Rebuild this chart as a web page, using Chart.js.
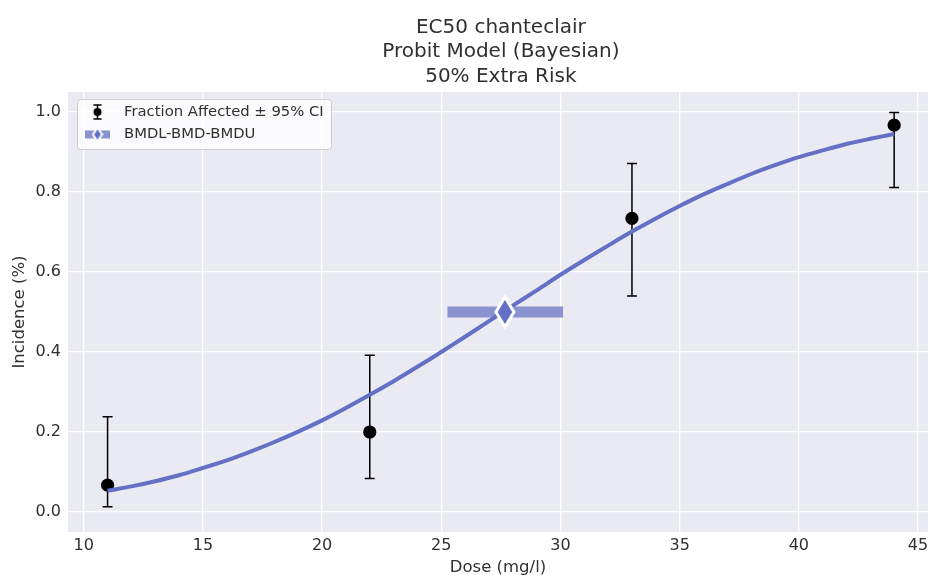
<!DOCTYPE html>
<html>
<head>
<meta charset="utf-8">
<script src="https://cdn.jsdelivr.net/npm/chart.js@4.4.1/dist/chart.umd.min.js"></script>
<style>
  html, body { margin: 0; padding: 0; background: #ffffff; }
  canvas { display: block; }
</style>
</head>
<body>
<canvas id="chart" width="928" height="575"></canvas>
<script>
// observed dose groups
const doses = [11, 22, 33, 44];
const fractionAffected = [0.067, 0.200, 0.734, 0.967];
const ciLower = [0.013, 0.084, 0.540, 0.811];
const ciUpper = [0.238, 0.392, 0.871, 0.999];

// fitted probit curve
const curveDose = [11, 12, 13, 14, 15, 16, 17, 18, 19, 20, 21, 22, 23, 24, 25, 26, 27,
                   28, 29, 30, 31, 32, 33, 34, 35, 36, 37, 38, 39, 40, 41, 42, 43, 44];
const curveIncidence = [0.053, 0.064, 0.077, 0.092, 0.110, 0.129, 0.151, 0.175, 0.201, 0.229,
                        0.260, 0.293, 0.327, 0.363, 0.400, 0.438, 0.477, 0.516, 0.554, 0.593,
                        0.630, 0.666, 0.701, 0.734, 0.765, 0.794, 0.820, 0.845, 0.867, 0.887,
                        0.904, 0.920, 0.933, 0.945];

// benchmark dose
const bmdl = 25.26;
const bmd = 27.67;
const bmdu = 30.11;
const bmr = 0.5;

const titleLines = ['EC50 chanteclair', 'Probit Model (Bayesian)', '50% Extra Risk'];
const xTicks = [10, 15, 20, 25, 30, 35, 40, 45];
const yTicks = [0.0, 0.2, 0.4, 0.6, 0.8, 1.0];

const FONT = 'DejaVu Sans, sans-serif';
const TEXT = '#303030';
const CURVE = '#6370c5';
const BAND = '#8a93cf';

// thin diamond marker used for the BMD point
function makeDiamond(w, h, lw) {
    const c = document.createElement('canvas');
    c.width = w; c.height = h;
    const g = c.getContext('2d');
    g.beginPath();
    g.moveTo(w / 2, lw / 2 + 0.5);
    g.lineTo(w - lw / 2 - 0.5, h / 2);
    g.lineTo(w / 2, h - lw / 2 - 0.5);
    g.lineTo(lw / 2 + 0.5, h / 2);
    g.closePath();
    g.fillStyle = CURVE;
    g.fill();
    g.lineWidth = lw;
    g.strokeStyle = '#ffffff';
    g.lineJoin = 'miter';
    g.stroke();
    return c;
}
const bigDiamond = makeDiamond(22, 34, 3);

const plotBackground = {
    id: 'plotBackground',
    beforeDraw(chart) {
        const { ctx, chartArea: a } = chart;
        ctx.save();
        ctx.fillStyle = '#eaeaf2';
        ctx.fillRect(a.left, a.top, a.right - a.left, a.bottom - a.top);
        ctx.restore();
    }
};

const errorBars = {
    id: 'errorBars',
    beforeDatasetsDraw(chart) {
        const { ctx, scales: { x, y } } = chart;
        ctx.save();
        ctx.strokeStyle = '#000000';
        ctx.lineWidth = 1.5;
        doses.forEach((d, i) => {
            const px = x.getPixelForValue(d);
            const lo = y.getPixelForValue(ciLower[i]);
            const hi = y.getPixelForValue(ciUpper[i]);
            ctx.beginPath();
            ctx.moveTo(px, lo); ctx.lineTo(px, hi);
            ctx.moveTo(px - 5, lo); ctx.lineTo(px + 5, lo);
            ctx.moveTo(px - 5, hi); ctx.lineTo(px + 5, hi);
            ctx.stroke();
        });
        ctx.restore();
    }
};

const titleAndLegend = {
    id: 'titleAndLegend',
    afterDraw(chart) {
        const { ctx, scales: { x } } = chart;
        ctx.save();
        // title, centred over the axes
        ctx.fillStyle = TEXT;
        ctx.font = '20px ' + FONT;
        ctx.textAlign = 'center';
        ctx.textBaseline = 'alphabetic';
        const cx = x.getPixelForValue(27.5);
        titleLines.forEach((t, i) => ctx.fillText(t, cx, 33 + i * 24.4));

        // legend box
        const bx = 77.5, by = 99.5, bw = 254, bh = 50;
        ctx.beginPath();
        ctx.roundRect(bx, by, bw, bh, 3);
        ctx.fillStyle = 'rgba(255,255,255,0.8)';
        ctx.fill();
        ctx.strokeStyle = '#cccccc';
        ctx.lineWidth = 1;
        ctx.stroke();

        // error bar symbol
        const ix = 97.5, r1 = 112, r2 = 134.5;
        ctx.strokeStyle = '#000000';
        ctx.lineWidth = 1.5;
        ctx.beginPath();
        ctx.moveTo(ix, r1 - 7); ctx.lineTo(ix, r1 + 7);
        ctx.moveTo(ix - 4, r1 - 7); ctx.lineTo(ix + 4, r1 - 7);
        ctx.moveTo(ix - 4, r1 + 7); ctx.lineTo(ix + 4, r1 + 7);
        ctx.stroke();
        ctx.beginPath();
        ctx.arc(ix, r1, 4, 0, Math.PI * 2);
        ctx.fillStyle = '#000000';
        ctx.fill();

        // BMD symbol
        ctx.fillStyle = BAND;
        ctx.fillRect(ix - 12.5, r2 - 4, 25, 8);
        ctx.drawImage(makeDiamond(12, 17, 2), ix - 6, r2 - 8.5);

        ctx.fillStyle = TEXT;
        ctx.font = '14.8px ' + FONT;
        ctx.textAlign = 'left';
        ctx.textBaseline = 'middle';
        ctx.fillText('Fraction Affected \u00b1 95% CI', 124, r1);
        ctx.fillText('BMDL-BMD-BMDU', 124, r2);
        ctx.restore();
    }
};

new Chart(document.getElementById('chart'), {
    type: 'line',
    data: {
        datasets: [
            {
                label: 'BMD',
                data: [{ x: bmd, y: bmr }],
                showLine: false,
                pointStyle: bigDiamond,
                order: 0
            },
            {
                label: 'Probit fit',
                data: curveDose.map((d, i) => ({ x: d, y: curveIncidence[i] })),
                borderColor: CURVE,
                borderWidth: 4,
                pointRadius: 0,
                tension: 0.3,
                order: 1
            },
            {
                label: 'BMDL-BMDU',
                data: [{ x: bmdl, y: bmr }, { x: bmdu, y: bmr }],
                borderColor: BAND,
                borderWidth: 11,
                borderCapStyle: 'butt',
                pointRadius: 0,
                order: 2
            },
            {
                label: 'Fraction Affected',
                data: doses.map((d, i) => ({ x: d, y: fractionAffected[i] })),
                showLine: false,
                pointRadius: 6.6,
                backgroundColor: '#000000',
                borderWidth: 0,
                order: 3
            }
        ]
    },
    options: {
        responsive: false,
        animation: false,
        devicePixelRatio: 1,
        layout: { autoPadding: false, padding: { top: 92, left: 0, right: 0, bottom: 0 } },
        plugins: {
            legend: { display: false },
            title: { display: false },
            tooltip: { enabled: false }
        },
        scales: {
            x: {
                type: 'linear',
                min: 9.34,
                max: 45.42,
                afterBuildTicks: s => { s.ticks = xTicks.map(v => ({ value: v })); },
                afterFit: s => { s.height = 43; s.paddingLeft = 0; s.paddingRight = 0; },
                border: { display: false },
                grid: { color: '#ffffff', lineWidth: 1.3, drawTicks: false },
                ticks: {
                    padding: 4,
                    color: TEXT,
                    font: { family: FONT, size: 16 },
                    callback: v => String(v)
                },
                title: {
                    display: true,
                    text: 'Dose (mg/l)',
                    color: TEXT,
                    font: { family: FONT, size: 16.5 },
                    padding: { top: 0, bottom: -3 }
                }
            },
            y: {
                type: 'linear',
                min: -0.05,
                max: 1.05,
                afterBuildTicks: s => { s.ticks = yTicks.map(v => ({ value: v })); },
                afterFit: s => { s.width = 68; s.paddingTop = 0; s.paddingBottom = 0; },
                border: { display: false },
                grid: { color: '#ffffff', lineWidth: 1.3, drawTicks: false },
                ticks: {
                    padding: 7,
                    color: TEXT,
                    font: { family: FONT, size: 16 },
                    callback: v => v.toFixed(1)
                },
                title: {
                    display: true,
                    text: 'Incidence (%)',
                    color: TEXT,
                    font: { family: FONT, size: 16.5 },
                    padding: { top: 10, bottom: 0 }
                }
            }
        }
    },
    plugins: [plotBackground, errorBars, titleAndLegend]
});
</script>
</body>
</html>
